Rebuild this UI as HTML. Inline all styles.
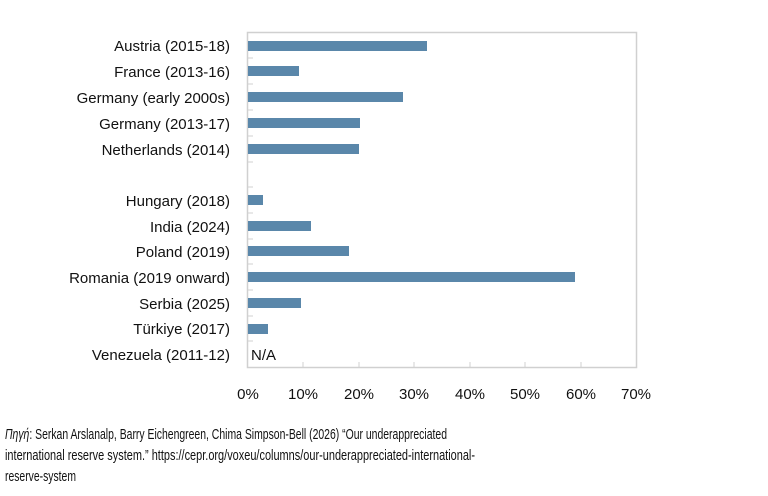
<!DOCTYPE html>
<html><head><meta charset="utf-8"><style>body{margin:0;background:#fff}svg{display:block}</style></head><body>
<svg width="768" height="496" xmlns="http://www.w3.org/2000/svg" font-family="Liberation Sans, DejaVu Sans, sans-serif">
<rect x="247.5" y="32.5" width="389" height="335" fill="none" stroke="#d0d0d0" stroke-width="1.5"/>
<g stroke="#d0d0d0" stroke-width="1">
<line x1="303" y1="367" x2="303" y2="362"/><line x1="359" y1="367" x2="359" y2="362"/><line x1="414" y1="367" x2="414" y2="362"/><line x1="470" y1="367" x2="470" y2="362"/><line x1="525" y1="367" x2="525" y2="362"/><line x1="581" y1="367" x2="581" y2="362"/>
<line x1="248" y1="58" x2="253" y2="58"/><line x1="248" y1="84" x2="253" y2="84"/><line x1="248" y1="110" x2="253" y2="110"/><line x1="248" y1="136" x2="253" y2="136"/><line x1="248" y1="162" x2="253" y2="162"/><line x1="248" y1="187" x2="253" y2="187"/><line x1="248" y1="213" x2="253" y2="213"/><line x1="248" y1="239" x2="253" y2="239"/><line x1="248" y1="264" x2="253" y2="264"/><line x1="248" y1="290" x2="253" y2="290"/><line x1="248" y1="316" x2="253" y2="316"/><line x1="248" y1="341" x2="253" y2="341"/>
</g>
<g fill="#5a87aa">
<rect x="248" y="41" width="179" height="10"/>
<rect x="248" y="66" width="51" height="10"/>
<rect x="248" y="92" width="155" height="10"/>
<rect x="248" y="118" width="112" height="10"/>
<rect x="248" y="144" width="111" height="10"/>
<rect x="248" y="195" width="15" height="10"/>
<rect x="248" y="221" width="63" height="10"/>
<rect x="248" y="246" width="101" height="10"/>
<rect x="248" y="272" width="327" height="10"/>
<rect x="248" y="298" width="53" height="10"/>
<rect x="248" y="324" width="20" height="10"/>
</g>
<g font-size="15" fill="#111" text-anchor="end">
<text x="230" y="51">Austria (2015-18)</text>
<text x="230" y="77">France (2013-16)</text>
<text x="230" y="103">Germany (early 2000s)</text>
<text x="230" y="129">Germany (2013-17)</text>
<text x="230" y="155">Netherlands (2014)</text>
<text x="230" y="206">Hungary (2018)</text>
<text x="230" y="232">India (2024)</text>
<text x="230" y="257">Poland (2019)</text>
<text x="230" y="283">Romania (2019 onward)</text>
<text x="230" y="309">Serbia (2025)</text>
<text x="230" y="334">Türkiye (2017)</text>
<text x="230" y="360">Venezuela (2011-12)</text>
</g>
<text x="251" y="360" font-size="15" fill="#111">N/A</text>
<g font-size="15" fill="#111" text-anchor="middle">
<text x="248" y="399">0%</text><text x="303" y="399">10%</text><text x="359" y="399">20%</text><text x="414" y="399">30%</text><text x="470" y="399">40%</text><text x="525" y="399">50%</text><text x="581" y="399">60%</text><text x="636" y="399">70%</text>
</g>
<g font-size="15" fill="#111">
<text x="5" y="439" textLength="442" lengthAdjust="spacingAndGlyphs"><tspan font-style="italic">Πηγή</tspan>: Serkan Arslanalp, Barry Eichengreen, Chima Simpson-Bell (2026) “Our underappreciated</text>
<text x="5" y="460" textLength="470" lengthAdjust="spacingAndGlyphs">international reserve system.” https://cepr.org/voxeu/columns/our-underappreciated-international-</text>
<text x="5" y="481" textLength="71" lengthAdjust="spacingAndGlyphs">reserve-system</text>
</g>
</svg>
</body></html>
